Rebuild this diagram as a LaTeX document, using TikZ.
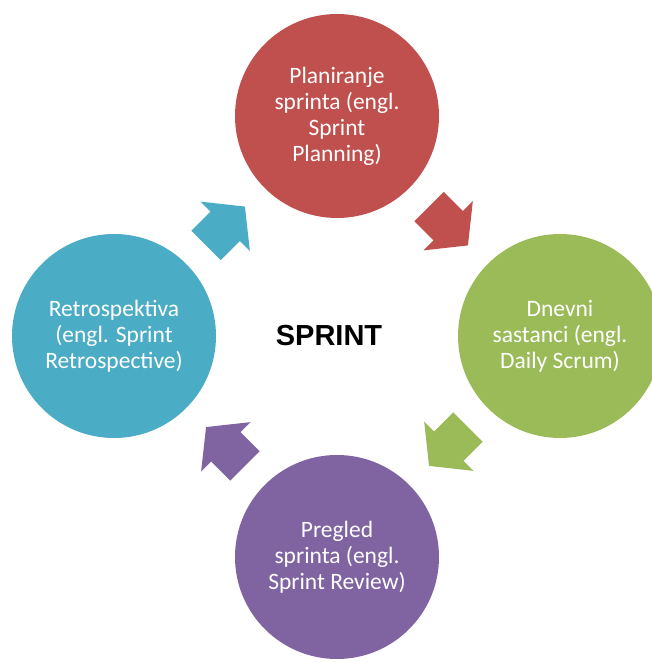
\documentclass[tikz,border=0pt]{standalone}
\usepackage{fontspec}
\setmainfont{Carlito}
\newfontfamily\arialfont{Liberation Sans}
\usetikzlibrary{calc, positioning}
\definecolor{sprintred}{HTML}{C0504D}
\definecolor{sprintgreen}{HTML}{9BBB59}
\definecolor{sprintpurple}{HTML}{8064A2}
\definecolor{sprintcyan}{HTML}{4BACC6}

\tikzset{
	phase/.style={circle, minimum size=204pt, inner sep=0pt, align=center,
		text=white, font=\fontsize{23.5}{26}\selectfont},
	cycarrow/.pic={
		\path[pic actions] (-27.5,-20.75) -- (-0.5,-20.75) -- (-0.5,-35) -- (27.5,0)
			-- (-0.5,35) -- (-0.5,20.75) -- (-27.5,20.75) -- cycle;
	}
}

\begin{document}
\begin{tikzpicture}[x=1pt, y=1pt]
	\useasboundingbox (0,0) rectangle (652,662);
	\clip (0,0) rectangle (652,662);

	\node (sprint) at (329,326) {\arialfont\fontsize{29}{34}\selectfont\bfseries SPRINT};

	\node[phase, fill=sprintred] (plan) at (337,546) {Planiranje\\sprinta (engl.\\Sprint\\Planning)};
	\node[phase, fill=sprintgreen] (daily) at (560,326) {Dnevni\\sastanci (engl.\\Daily Scrum)};
	\node[phase, fill=sprintpurple] (review) at (337,105) {Pregled\\sprinta (engl.\\Sprint Review)};
	\node[phase, fill=sprintcyan] (retro) at (114,326) {Retrospektiva\\(engl. Sprint\\Retrospective)};

	% arrows between the phases
	\pic[fill=sprintred, rotate=-45] (a1) at ($(plan)!0.5!(daily)$) {cycarrow};
	\pic[fill=sprintgreen, rotate=-135] (a2) at ($(daily)!0.5!(review)$) {cycarrow};
	\pic[fill=sprintpurple, rotate=135] (a3) at ($(review)!0.5!(retro)$) {cycarrow};
	\pic[fill=sprintcyan, rotate=45] (a4) at ($(retro)!0.5!(plan)$) {cycarrow};
\end{tikzpicture}
\end{document}
